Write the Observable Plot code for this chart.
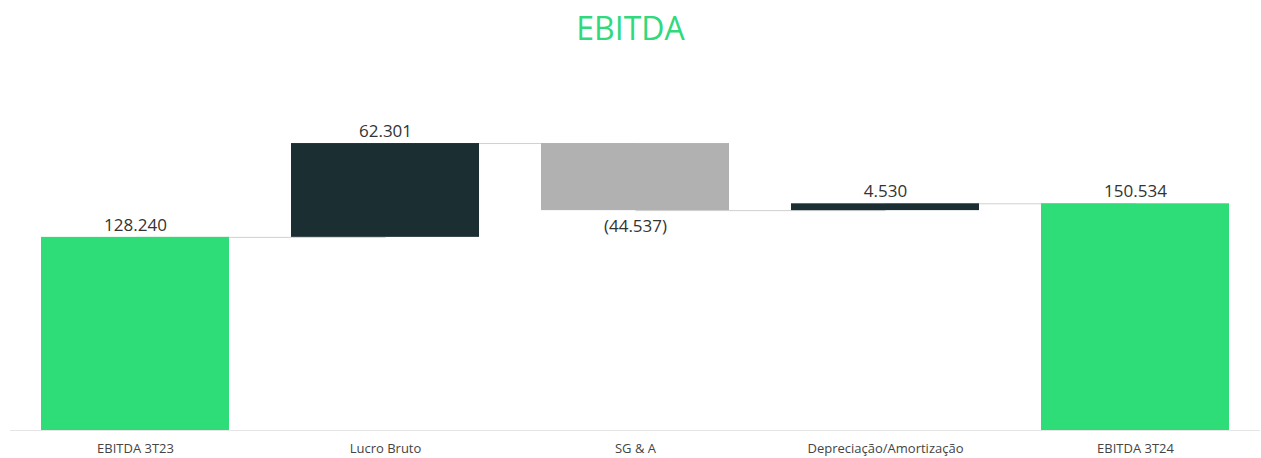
<!DOCTYPE html>
<html>
<head>
<meta charset="utf-8">
<script src="https://cdn.jsdelivr.net/npm/d3@7"></script>
<script src="https://cdn.jsdelivr.net/npm/@observablehq/plot@0.6"></script>
<style>
  html, body { margin: 0; padding: 0; background: #fff; }
  #title { height: 60px; text-align: center; font-family: "Open Sans", sans-serif; font-size: 32px; color: #30d97b; line-height: 56px; }
  #chart svg { display: block; }
</style>
</head>
<body>
<div id="title">EBITDA</div>
<div id="chart"></div>
<script>
const categories = ["EBITDA 3T23", "Lucro Bruto", "SG & A", "Depreciação/Amortização", "EBITDA 3T24"];
const values = [128.240, 62.301, -44.537, 4.530, 150.534];
const kinds = ["total", "delta", "delta", "delta", "total"];
const valueLabels = ["128.240", "62.301", "(44.537)", "4.530", "150.534"];

let running = 0;
const rows = categories.map((c, i) => {
  let start, end;
  if (kinds[i] === "total") { start = 0; end = values[i]; running = values[i]; }
  else { start = running; end = running + values[i]; running = end; }
  const type = kinds[i] === "total" ? "total" : (values[i] >= 0 ? "up" : "down");
  return { category: c, start, end, lo: Math.min(start, end), hi: Math.max(start, end), type, label: valueLabels[i] };
});
const links = rows.slice(0, -1).map((r, i) => ({ a: r.category, b: rows[i + 1].category, level: r.end }));

const chart = Plot.plot({
  width: 1261,
  height: 398,
  marginTop: 68.8,
  marginBottom: 28,
  marginLeft: 10,
  marginRight: 1,
  style: { fontFamily: "Open Sans, sans-serif", background: "#fff" },
  x: { domain: categories, paddingInner: 0.25, paddingOuter: 0.125, label: null },
  y: { domain: [0, 200], axis: null },
  color: { domain: ["total", "up", "down"], range: ["#2edc78", "#1b2f33", "#b1b1b1"] },
  marks: [
    Plot.ruleY([0], { stroke: "#e6e6e6", strokeWidth: 1 }),
    Plot.link(links, { x1: "a", x2: "b", y1: "level", y2: "level", stroke: "#d0d0d0", strokeWidth: 1 }),
    Plot.barY(rows, { x: "category", y1: "lo", y2: "hi", fill: "type" }),
    Plot.text(rows.filter(d => d.type !== "down"), { x: "category", y: "hi", text: "label", dy: -12, fontSize: 17, fill: "#333" }),
    Plot.text(rows.filter(d => d.type === "down"), { x: "category", y: "lo", text: "label", dy: 16, fontSize: 17, fill: "#333" }),
    Plot.axisX({ tickSize: 0, tickPadding: 13, fontSize: 13, color: "#444", label: null })
  ]
});
document.getElementById("chart").appendChild(chart);
</script>
</body>
</html>
